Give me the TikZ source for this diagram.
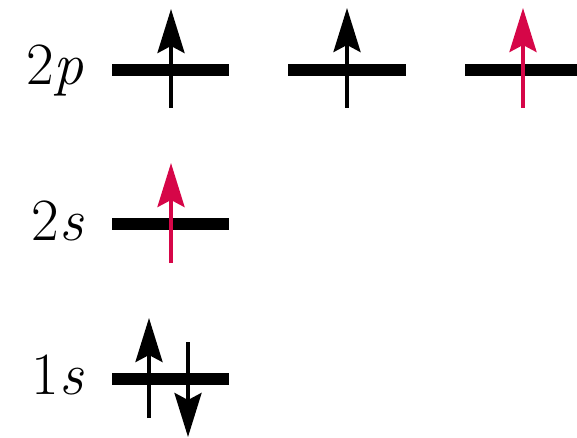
\documentclass[tikz,border=0pt]{standalone}
\usetikzlibrary{arrows.meta}
\definecolor{spinred}{RGB}{214,6,72}
\tikzset{
  level/.style={line width=12pt, black},
  spin/.style={line width=3.8pt, -{Stealth[length=44pt,width=27pt,inset=7pt]}},
  lab/.style={anchor=base east, inner sep=0pt, font=\fontsize{60}{66}\selectfont}
}
\begin{document}
\begin{tikzpicture}[x=1pt,y=1pt]
\useasboundingbox (0,0) rectangle (577,-438);
% labels
\node[lab] (l2p) at (84,-85) {2\textit{p}};
\node[lab] (l2s) at (84,-240) {2\textit{s}};
\node[lab] (l1s) at (84,-394) {1\textit{s}};
% levels
\coordinate (p1a) at (112,-70); \coordinate (p1b) at (229,-70);
\coordinate (p2a) at (288,-70); \coordinate (p2b) at (406,-70);
\coordinate (p3a) at (465,-70); \coordinate (p3b) at (577,-70);
\coordinate (sa) at (112,-224); \coordinate (sb) at (229,-224);
\coordinate (ka) at (112,-379); \coordinate (kb) at (229,-379);
\draw[level] (p1a) -- (p1b);
\draw[level] (p2a) -- (p2b);
\draw[level] (p3a) -- (p3b);
\draw[level] (sa) -- (sb);
\draw[level] (ka) -- (kb);
% electrons
\coordinate (e1s) at (171,-108); \coordinate (e1e) at (171,-9);
\coordinate (e2s) at (347,-108); \coordinate (e2e) at (347,-8);
\coordinate (e3s) at (523,-108); \coordinate (e3e) at (523,-8);
\coordinate (e4s) at (171,-263); \coordinate (e4e) at (171,-163);
\coordinate (e5s) at (149,-418); \coordinate (e5e) at (149,-318);
\coordinate (e6s) at (188,-342); \coordinate (e6e) at (188,-437);
\draw[spin] (e1s) -- (e1e);
\draw[spin] (e2s) -- (e2e);
\draw[spin, spinred] (e3s) -- (e3e);
\draw[spin, spinred] (e4s) -- (e4e);
\draw[spin] (e5s) -- (e5e);
\draw[spin] (e6s) -- (e6e);
\end{tikzpicture}
\end{document}
